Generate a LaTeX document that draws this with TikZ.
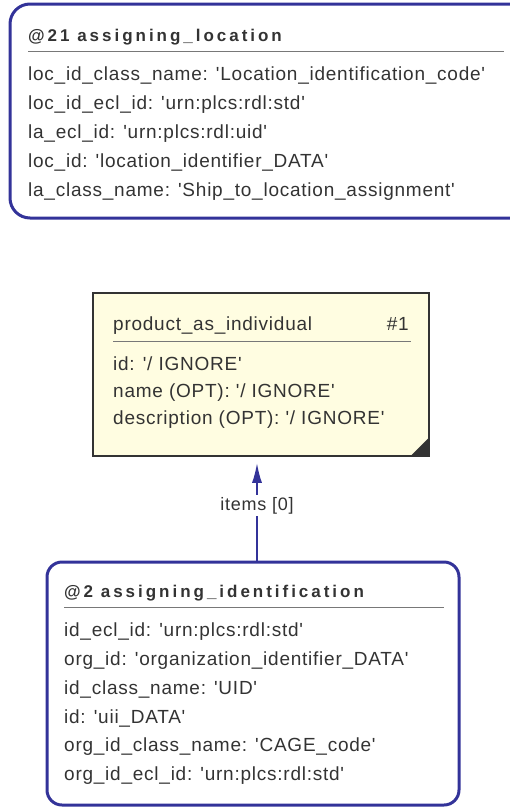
\documentclass[tikz,border=0pt]{standalone}
\usepackage{fontspec}
\setmainfont[Ligatures=TeXOff]{Liberation Sans}
\newfontfamily\attrfont[Ligatures=TeXOff,LetterSpace=4]{Liberation Sans}
\newfontfamily\headfont[Ligatures=TeXOff,LetterSpace=17.5]{Liberation Sans}
\usetikzlibrary{arrows.meta}
\definecolor{edgeblue}{RGB}{51,51,153}
\definecolor{noteyellow}{RGB}{255,253,225}
\definecolor{inkgray}{RGB}{51,51,51}
\definecolor{rulegray}{RGB}{120,120,120}

\begin{document}
\begin{tikzpicture}[x=1pt,y=-1pt]
  \useasboundingbox (0,0) rectangle (510,807);
  \clip (0,0) rectangle (510,807);

  \tikzstyle{template}=[draw=edgeblue, line width=3pt, inner sep=0pt]
  \tikzstyle{attr}=[anchor=base west, inner sep=0pt, text=inkgray,
    font=\attrfont\fontsize{19}{22}\selectfont]
  \tikzstyle{head}=[attr, font=\headfont\bfseries\fontsize{17}{20}\selectfont]
  \tikzstyle{divider}=[rulegray, line width=1pt]

  % @21 assigning_location
  \node[template, rounded corners=20pt, minimum width=530pt,
    minimum height=214pt] (loc) at (275,111) {};
  \node[head] (loc-head) at (28,41) {@21 assigning\_location};
  \draw[divider] (28,51.7) -- (504,51.7);
  \foreach \txt [count=\i] in {
      {loc\_id\_class\_name: 'Location\_identification\_code'},
      {loc\_id\_ecl\_id: 'urn:plcs:rdl:std'},
      {la\_ecl\_id: 'urn:plcs:rdl:uid'},
      {loc\_id: 'location\_identifier\_DATA'},
      {la\_class\_name: 'Ship\_to\_location\_assignment'}}
  {
    \node[attr] (loc-\i) at (28,{80+29.2*(\i-1)}) {\txt};
  }

  % product_as_individual
  \node[draw=inkgray, fill=noteyellow, line width=1.5pt, inner sep=0pt,
    minimum width=336pt, minimum height=163pt] (prod) at (261,374.5) {};
  \fill[inkgray] (prod.south east) -- ++(-20,0) -- ++(20,-20) -- cycle;
  \node[attr] (prod-head) at (113,330) {product\_as\_individual};
  \node[attr, anchor=base east] (prod-ref) at (409,330) {\#1};
  \draw[divider] (113,341) -- (411,341);
  \foreach \txt [count=\i] in {
      {id: '/ IGNORE'},
      {name (OPT): '/ IGNORE'},
      {description (OPT): '/ IGNORE'}}
  {
    \node[attr] (prod-\i) at (113,{370+27*(\i-1)}) {\txt};
  }

  % @2 assigning_identification
  \node[template, rounded corners=15pt, minimum width=412pt,
    minimum height=243pt] (ident) at (253,683.5) {};
  \node[head] (ident-head) at (64,597) {@2 assigning\_identification};
  \draw[divider] (64,607.7) -- (444,607.7);
  \foreach \txt [count=\i] in {
      {id\_ecl\_id: 'urn:plcs:rdl:std'},
      {org\_id: 'organization\_identifier\_DATA'},
      {id\_class\_name: 'UID'},
      {id: 'uii\_DATA'},
      {org\_id\_class\_name: 'CAGE\_code'},
      {org\_id\_ecl\_id: 'urn:plcs:rdl:std'}}
  {
    \node[attr] (ident-\i) at (64,{636.7+28.8*(\i-1)}) {\txt};
  }

  \draw[edgeblue, line width=2pt, -{Latex[length=20pt,width=10pt]},
    shorten >=6pt]
    ([xshift=4pt]ident.north) -- ([xshift=-4pt]prod.south)
    node[pos=0.53, fill=white, inner sep=2pt, text=inkgray,
      font=\attrfont\fontsize{18}{20}\selectfont] (items) {items [0]};
\end{tikzpicture}
\end{document}
